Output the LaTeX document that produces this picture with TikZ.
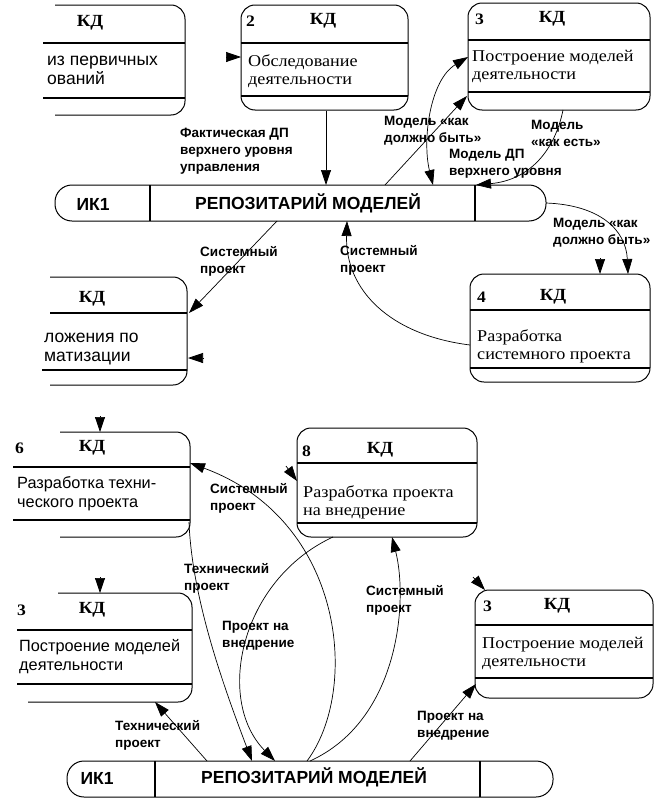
\documentclass[tikz,border=0pt]{standalone}
\usepackage{fontspec}
\setmainfont{Liberation Serif}
\newfontfamily\bodyf[FakeStretch=1.1]{Liberation Serif}
\newfontfamily\lblf{Liberation Sans}
\usetikzlibrary{arrows.meta}
\begin{document}
\begin{tikzpicture}[x=1pt,y=-1pt,
  box/.style={draw, rounded corners=14pt, line width=1pt, inner sep=0pt},
  sepline/.style={line width=1.8pt},
  frame/.style={line width=1pt, rounded corners=14pt},
  conn/.style={line width=0.7pt},
  arr/.style={conn,-{Triangle[length=15pt,width=10pt]}},
  darr/.style={conn,{Triangle[length=15pt,width=10pt]}-{Triangle[length=15pt,width=10pt]}},
  lbl/.style={font=\lblf\bfseries\fontsize{13.5}{17}\selectfont, align=left, inner sep=0pt, anchor=west},
  bodytxt/.style={font=\bodyf\fontsize{16.5}{18}\selectfont, align=left, inner sep=0pt, anchor=west},
  sidetxt/.style={font=\lblf\fontsize{16.3}{19}\selectfont, align=left, inner sep=0pt, anchor=west},
  bigside/.style={sidetxt, font=\lblf\fontsize{17.5}{19}\selectfont},
  kd/.style={font=\bodyf\bfseries\fontsize{17}{18}\selectfont, inner sep=0pt},
  num/.style={font=\bodyf\bfseries\fontsize{16}{18}\selectfont, inner sep=0pt, anchor=west},
  repotxt/.style={font=\lblf\bfseries\fontsize{17.5}{18}\selectfont, inner sep=0pt},
]
\fill[white] (0,0) rectangle (666,811);
\useasboundingbox (0,0) rectangle (666,811);

% ---------- full process boxes ----------
\node[box, minimum width=167pt, minimum height=105pt] (b2) at (324.5,57.5) {};
\draw[sepline] (241,43) -- (408,43) (241,96) -- (408,96);
\node[num] (n2) at (246,21) {2};
\node[kd] (k2) at (323,21) {КД};
\node[bodytxt] (t2) at (248,71) {Обследование\\деятельности};

\node[box, minimum width=182pt, minimum height=107pt] (b3) at (559,56.5) {};
\draw[sepline] (468,40) -- (650,40) (468,92) -- (650,92);
\node[num] (n3) at (475,19) {3};
\node[kd] (k3) at (552,19) {КД};
\node[bodytxt] (t3) at (472,66) {Построение моделей\\деятельности};

\node[box, minimum width=180pt, minimum height=108pt] (b4) at (560,328) {};
\draw[sepline] (470,310) -- (650,310) (470,368) -- (650,368);
\node[num] (n4) at (477,297) {4};
\node[kd] (k4) at (553,297) {КД};
\node[bodytxt] (t4) at (477,346) {Разработка\\системного проекта};

\node[box, minimum width=180pt, minimum height=109pt] (b8) at (387,482.5) {};
\draw[sepline] (297,463) -- (477,463) (297,523) -- (477,523);
\node[num] (n8) at (302,451) {8};
\node[kd] (k8) at (380,450) {КД};
\node[bodytxt] (t8) at (303,502) {Разработка проекта\\на внедрение};

\node[box, minimum width=178pt, minimum height=108pt] (b3b) at (564,644) {};
\draw[sepline] (475,625) -- (653,625) (475,678) -- (653,678);
\node[num] (n3b) at (483,606) {3};
\node[kd] (k3b) at (557,606) {КД};
\node[bodytxt] (t3b) at (482,653) {Построение моделей\\деятельности};

% ---------- cut-off boxes on the left ----------
\draw[frame] (55,5) -- (185,5) -- (185,115) -- (55,115);
\draw[sepline] (43,43) -- (185,43) (43,98) -- (185,98);
\node[kd] (kA) at (90,23) {КД};
\node[bigside] (tA) at (47,70) {из первичных\\ований};

\draw[frame] (50,277) -- (187,277) -- (187,385) -- (50,385);
\draw[sepline] (50,313) -- (187,313) (42,370) -- (187,370);
\node[kd] (kB) at (92,299) {КД};
\node[bigside] (tB) at (44,349) {ложения по\\матизации};

\draw[frame] (60,432) -- (190,432) -- (190,537) -- (60,537);
\draw[sepline] (13,467) -- (190,467) (13,520) -- (190,520);
\node[num] (nC) at (15,448) {6};
\node[kd] (kC) at (92,448) {КД};
\node[sidetxt] (tC) at (17,494) {Разработка техни-\\ческого проекта};

\draw[frame] (58,593) -- (192,593) -- (192,702) -- (28,702);
\draw[sepline] (17,630) -- (192,630) (17,684) -- (192,684);
\node[num] (nD) at (17,610) {3};
\node[kd] (kD) at (92,610) {КД};
\node[sidetxt] (tD) at (19,657) {Построение моделей\\деятельности};

% ---------- repositories ----------
\node[box, rounded corners=17pt, minimum width=491pt, minimum height=36pt] (r1) at (300.5,203) {};
\draw[sepline] (150,185) -- (150,221) (475,185) -- (475,221);
\node[repotxt] (r1a) at (93,204) {ИК1};
\node[repotxt] (r1b) at (308,203) {РЕПОЗИТАРИЙ МОДЕЛЕЙ};

\node[box, rounded corners=17pt, minimum width=486pt, minimum height=36pt] (r2) at (310,779) {};
\draw[sepline] (155,761) -- (155,797) (480,761) -- (480,797);
\node[repotxt] (r2a) at (97,778) {ИК1};
\node[repotxt] (r2b) at (314,777) {РЕПОЗИТАРИЙ МОДЕЛЕЙ};

% ---------- labels ----------
\node[lbl] (l1) at (180,151) {Фактическая ДП\\верхнего уровня\\управления};
\node[lbl] (l2) at (384,131) {Модель «как\\должно быть»};
\node[lbl] (l3) at (531,133) {Модель\\«как есть»};
\node[lbl] (l4) at (449,164) {Модель ДП\\верхнего уровня};
\node[lbl] (l5) at (553,233) {Модель «как\\должно быть»};
\node[lbl] (l6) at (200,261) {Системный\\проект};
\node[lbl] (l7) at (340,260) {Системный\\проект};
\node[lbl] (l8) at (210,498) {Системный\\проект};
\node[lbl] (l9) at (184,578) {Технический\\проект};
\node[lbl] (l10) at (222,636) {Проект на\\внедрение};
\node[lbl] (l11) at (366,600) {Системный\\проект};
\node[lbl] (l12) at (115,735) {Технический\\проект};
\node[lbl] (l13) at (417,726) {Проект на\\внедрение};

% ---------- port coordinates ----------
\coordinate (s1) at (226,57);   \coordinate (e1) at (241,57);
\coordinate (s2) at (204,358);  \coordinate (e2) at (188,358);
\coordinate (s3) at (600,258);  \coordinate (e3) at (600,274);
\coordinate (s4) at (100,416);  \coordinate (e4) at (100,432);
\coordinate (s5) at (100,577);  \coordinate (e5) at (100,593);
\coordinate (s6) at (286,466);  \coordinate (e6) at (297,481);
\coordinate (s7) at (473,577);  \coordinate (e7) at (485,590);

\coordinate (r1t) at (326,185);
\coordinate (r1u) at (385,185);
\coordinate (b3bl) at (467,96);
\coordinate (b3l) at (468,57);
\coordinate (r1v) at (433,185);
\coordinate (b3s) at (563,110);
\coordinate (r1w) at (476,185);
\coordinate (r1e) at (546,203);
\coordinate (b4t) at (628,274);
\coordinate (b4l) at (470,345);
\coordinate (r1b1) at (347,221);
\coordinate (r1b2) at (277,221);
\coordinate (bBt) at (189,313);

\coordinate (r2s) at (307,761);
\coordinate (r2s2) at (310,761);
\coordinate (bCr) at (190,463);
\coordinate (b8b) at (392,537);
\coordinate (b8bl) at (333,537);
\coordinate (r2p) at (275,761);
\coordinate (bCb) at (189,522);
\coordinate (r2q) at (252,761);
\coordinate (r2t) at (207,761);
\coordinate (bDb) at (155,702);
\coordinate (r2u) at (410,761);
\coordinate (b3bb) at (476,684);

% ---------- connectors ----------
\draw[arr] (s1) -- (e1);
\draw[arr] (s2) -- (e2);
\draw[arr] (s3) -- (e3);
\draw[arr] (s4) -- (e4);
\draw[arr] (s5) -- (e5);
\draw[arr] (s6) -- (e6);
\draw[arr] (s7) -- (e7);

\draw[arr] (b2.south -| r1t) -- (r1t);
\draw[arr] (r1u) -- (b3bl);
\draw[darr] (b3l) .. controls (430,80) and (422,140) .. (r1v);
\draw[arr] (b3s) .. controls (555,150) and (530,180) .. (r1w);
\draw[arr] (r1e) .. controls (600,205) and (626,230) .. (b4t);
\draw[arr] (b4l) .. controls (390,335) and (345,290) .. (r1b1);
\draw[arr] (r1b2) -- (bBt);

\draw[arr] (r2s) .. controls (360,690) and (345,520) .. (bCr);
\draw[arr] (r2s2) .. controls (400,720) and (408,600) .. (b8b);
\draw[arr] (b8bl) .. controls (240,580) and (215,700) .. (r2p);
\draw[arr] (bCb) .. controls (192,600) and (225,690) .. (r2q);
\draw[arr] (r2t) -- (bDb);
\draw[arr] (r2u) -- (b3bb);
\end{tikzpicture}
\end{document}
